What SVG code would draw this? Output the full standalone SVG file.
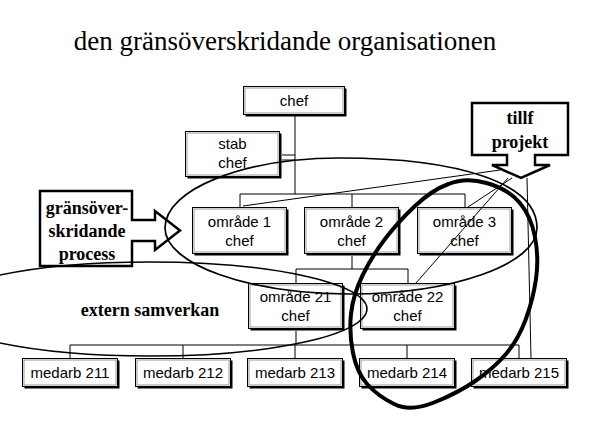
<svg xmlns="http://www.w3.org/2000/svg" width="595" height="446" viewBox="0 0 595 446">
<style>
.bx{fill:#fff;stroke:#000;stroke-width:1}
.in{fill:none;stroke:#9a9a9a;stroke-width:1}
.sh{fill:#000}
.t{font-family:"Liberation Sans",Arial,sans-serif;font-size:15px;text-anchor:middle;fill:#000}
.s{font-family:"Liberation Serif","Times New Roman",serif;font-weight:bold;font-size:18px;text-anchor:middle;fill:#000}
.ttl{font-family:"Liberation Serif","Times New Roman",serif;font-size:27px;text-anchor:middle;fill:#000}
.ln{fill:none;stroke:#000;stroke-width:1}
.arr{fill:#fff;stroke:#000;stroke-width:2.5;stroke-linejoin:miter}
.ov{fill:none;stroke:#000}
</style>
<rect width="595" height="446" fill="#fff"/>
<text class="ttl" x="285" y="50" font-family="'Liberation Serif', 'Times New Roman', serif">den gränsöverskridande organisationen</text>

<g id="connectors">
<path class="ln" d="M295,116V194M282,155H295M282,160H295M240,194H465M240,194V207M352,194V207M465,194V207M352,256V269M296,269H408M296,269V283M408,269V283M296,331V345M70,345H519M70,345V358M183,345V358M295,345V358M407,345V358M519,345V358"/>
</g>

<g id="n-chef"><rect class="sh" x="245.5" y="88.5" width="101" height="28"/><rect class="bx" x="243.5" y="86.5" width="101" height="28"/><rect class="in" x="245" y="88" width="98" height="25"/><text class="t" x="294" y="106">chef</text></g>
<g id="n-stab"><rect class="sh" x="187.5" y="133.5" width="94" height="45"/><rect class="bx" x="185.5" y="131.5" width="94" height="45"/><rect class="in" x="187" y="133" width="91" height="42"/><text class="t" x="232.5" y="149">stab</text><text class="t" x="232.5" y="168">chef</text></g>
<g id="n-om1"><rect class="sh" x="194.5" y="209.5" width="94" height="46"/><rect class="bx" x="192.5" y="207.5" width="94" height="46"/><rect class="in" x="194" y="209" width="91" height="43"/><text class="t" x="239.5" y="227">område 1</text><text class="t" x="239.5" y="246">chef</text></g>
<g id="n-om2"><rect class="sh" x="306.5" y="209.5" width="94" height="46"/><rect class="bx" x="304.5" y="207.5" width="94" height="46"/><rect class="in" x="306" y="209" width="91" height="43"/><text class="t" x="351.5" y="227">område 2</text><text class="t" x="351.5" y="246">chef</text></g>
<g id="n-om3"><rect class="sh" x="419.5" y="209.5" width="94" height="46"/><rect class="bx" x="417.5" y="207.5" width="94" height="46"/><rect class="in" x="419" y="209" width="91" height="43"/><text class="t" x="464.5" y="227">område 3</text><text class="t" x="464.5" y="246">chef</text></g>
<g id="n-om21"><rect class="sh" x="250.5" y="285.5" width="94" height="45"/><rect class="bx" x="248.5" y="283.5" width="94" height="45"/><rect class="in" x="250" y="285" width="91" height="42"/><text class="t" x="295.5" y="302">område 21</text><text class="t" x="295.5" y="321">chef</text></g>
<g id="n-om22"><rect class="sh" x="362.5" y="285.5" width="94" height="45"/><rect class="bx" x="360.5" y="283.5" width="94" height="45"/><rect class="in" x="362" y="285" width="91" height="42"/><text class="t" x="407.5" y="302">område 22</text><text class="t" x="407.5" y="321">chef</text></g>
<g id="n-m211"><rect class="sh" x="24.5" y="360.5" width="95" height="28"/><rect class="bx" x="22.5" y="358.5" width="95" height="28"/><rect class="in" x="24" y="360" width="92" height="25"/><text class="t" x="70" y="378">medarb 211</text></g>
<g id="n-m212"><rect class="sh" x="137.5" y="360.5" width="95" height="28"/><rect class="bx" x="135.5" y="358.5" width="95" height="28"/><rect class="in" x="137" y="360" width="92" height="25"/><text class="t" x="183" y="378">medarb 212</text></g>
<g id="n-m213"><rect class="sh" x="249.5" y="360.5" width="95" height="28"/><rect class="bx" x="247.5" y="358.5" width="95" height="28"/><rect class="in" x="249" y="360" width="92" height="25"/><text class="t" x="295" y="378">medarb 213</text></g>
<g id="n-m214"><rect class="sh" x="361.5" y="360.5" width="95" height="28"/><rect class="bx" x="359.5" y="358.5" width="95" height="28"/><rect class="in" x="361" y="360" width="92" height="25"/><text class="t" x="407" y="378">medarb 214</text></g>
<g id="n-m215"><rect class="sh" x="473.5" y="360.5" width="95" height="28"/><rect class="bx" x="471.5" y="358.5" width="95" height="28"/><rect class="in" x="473" y="360" width="92" height="25"/><text class="t" x="519" y="378">medarb 215</text></g>

<g id="n-process">
<path class="arr" d="M40,191H132V220H155V211L180,230.5L155,250V241H132V266H40Z"/>
<text class="s" x="87" y="214">gränsöver-</text>
<text class="s" x="87" y="237">skridande</text>
<text class="s" x="87" y="260">process</text>
</g>
<g id="n-tillf">
<path class="arr" d="M472,103H568V155H535V165H550L521,178L492,165H507V155H472Z"/>
<text class="s" x="520" y="124">tillf</text>
<text class="s" x="520" y="148">projekt</text>
</g>
<g id="n-extern"><text class="s" x="150" y="316">extern samverkan</text></g>

<g id="overlays">
<path class="ln" d="M243,206L500,170M512,178L468,207M508,178L416,283M527,178L531,358"/>
<path class="ov" stroke-width="1.7" d="M165,228C165,189 244,158 340,158C462,158 537,184 537,228C537,264 453,294 350,294C248,294 165,264 165,228Z"/>
<ellipse class="ov" stroke-width="1.5" cx="150" cy="309" rx="217" ry="47"/>
<path class="ov" stroke-width="4" d="M448.5,184Q466,177 486.5,183Q508,189 519.5,202.5Q531,216 535,237Q539,258 536,279Q533,300 525.5,320Q518,340 506,354Q494,368 476,380.5Q458,393 434,402.5Q410,412 394,404Q378,396 367.5,384.5Q357,373 353,353Q349,333 351,314Q353,295 362.5,275.5Q372,256 385,239Q398,222 415,206Q432,190 448.5,184Z"/>
</g>
</svg>
